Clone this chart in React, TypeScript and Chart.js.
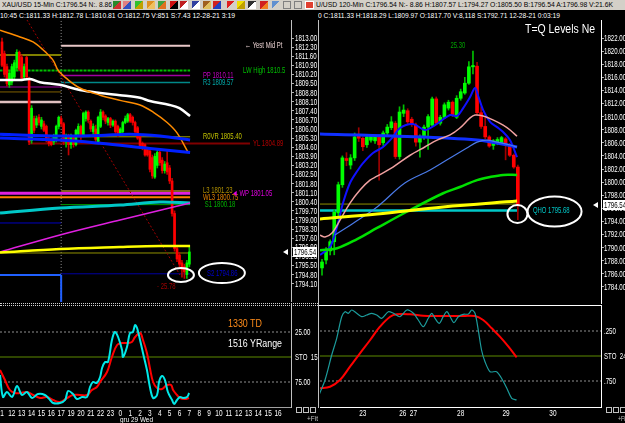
import React, { useEffect, useRef, useLayoutEffect } from 'react';
import { Chart, registerables } from 'chart.js';

Chart.register(...registerables);

const FONT = "'Liberation Sans', Arial, sans-serif";
const SX = 0.68; // horizontal condensing of the small terminal font
const FS = 9;

type Pt = [number, number];

// ================= LEFT PANEL: XAU/USD 15-Min =================
// [open, high, low, close]
const LEFT_CANDLES: number[][] = [
  [1812.7, 1813.0, 1810.8, 1810.9], [1811.8, 1812.0, 1810.0, 1810.2], [1810.8, 1811.0, 1809.3, 1809.5],
  [1809.4, 1810.5, 1809.2, 1810.3], [1809.6, 1811.0, 1809.4, 1810.8], [1810.0, 1811.3, 1809.8, 1811.1],
  [1810.7, 1812.1, 1810.5, 1811.9], [1811.9, 1812.0, 1810.5, 1810.6], [1811.5, 1811.7, 1809.8, 1809.9],
  [1810.0, 1811.0, 1809.8, 1810.8], [1811.5, 1811.6, 1809.8, 1810.0], [1809.9, 1810.0, 1804.8, 1805.0],
  [1805.1, 1807.8, 1804.9, 1807.6], [1806.8, 1807.0, 1805.7, 1805.9], [1806.3, 1807.0, 1806.1, 1806.8],
  [1806.9, 1807.1, 1806.3, 1806.5], [1806.2, 1806.9, 1806.0, 1806.7], [1806.4, 1806.6, 1805.8, 1805.9],
  [1806.2, 1806.3, 1805.0, 1805.2], [1805.2, 1805.4, 1804.7, 1804.9], [1805.1, 1805.3, 1804.7, 1804.8],
  [1805.0, 1805.6, 1804.8, 1805.4], [1805.1, 1806.3, 1805.0, 1806.2], [1806.2, 1807.0, 1806.0, 1806.9],
  [1806.8, 1807.0, 1806.2, 1806.4], [1806.4, 1806.5, 1804.8, 1805.0], [1805.0, 1805.6, 1804.6, 1805.5],
  [1805.5, 1805.6, 1804.0, 1804.8], [1804.8, 1805.6, 1804.5, 1805.4], [1805.4, 1805.5, 1804.6, 1804.8],
  [1804.8, 1806.0, 1804.7, 1805.9], [1805.6, 1806.4, 1805.5, 1806.2], [1806.2, 1806.3, 1805.2, 1805.4],
  [1805.5, 1807.3, 1805.4, 1807.2], [1806.8, 1807.4, 1806.6, 1807.3], [1807.3, 1807.4, 1806.5, 1806.7],
  [1806.6, 1806.7, 1805.8, 1806.0], [1805.8, 1806.4, 1805.6, 1806.2], [1806.0, 1806.3, 1805.0, 1805.2],
  [1805.0, 1807.0, 1804.9, 1806.9], [1806.2, 1807.5, 1806.1, 1807.3], [1807.3, 1807.4, 1806.7, 1806.9],
  [1807.0, 1807.1, 1806.4, 1806.6], [1806.5, 1806.9, 1806.3, 1806.8], [1806.8, 1806.9, 1806.1, 1806.3],
  [1806.3, 1806.7, 1806.2, 1806.6], [1806.6, 1806.7, 1805.6, 1805.8], [1806.2, 1806.3, 1805.4, 1805.6],
  [1805.6, 1806.1, 1805.5, 1806.0], [1805.8, 1806.6, 1805.7, 1806.5], [1806.5, 1807.0, 1806.4, 1806.8],
  [1806.6, 1807.2, 1806.5, 1807.1], [1807.1, 1807.2, 1806.5, 1806.6], [1806.9, 1807.0, 1806.3, 1806.5],
  [1806.5, 1806.6, 1805.7, 1805.8], [1806.1, 1806.2, 1805.2, 1805.3], [1805.5, 1805.6, 1804.5, 1804.6],
  [1804.9, 1805.0, 1804.4, 1804.6], [1804.8, 1804.9, 1803.9, 1804.0], [1804.5, 1804.6, 1803.9, 1804.0],
  [1804.3, 1804.4, 1802.7, 1802.9], [1803.8, 1804.0, 1802.2, 1802.4], [1802.3, 1804.1, 1802.2, 1803.9],
  [1803.2, 1804.4, 1803.0, 1804.2], [1804.2, 1804.3, 1803.2, 1803.4], [1803.6, 1803.8, 1802.6, 1802.8],
  [1802.8, 1803.5, 1802.6, 1803.3], [1803.4, 1804.3, 1802.5, 1802.7], [1803.0, 1803.2, 1801.8, 1802.0],
  [1802.0, 1802.2, 1799.3, 1799.5], [1799.5, 1799.7, 1796.6, 1796.8], [1796.8, 1797.0, 1795.8, 1796.0],
  [1796.3, 1796.5, 1795.4, 1795.6], [1795.7, 1795.9, 1794.6, 1795.2], [1795.4, 1795.6, 1794.5, 1795.0],
  [1794.8, 1795.9, 1794.5, 1795.7], [1795.6, 1796.9, 1795.4, 1796.54],
];
const LEFT_LAST_PRICE = 1796.54;
const LEFT_PRICE_TICKS = [
  1794.1, 1794.8, 1795.5, 1796.2, 1796.9, 1797.6, 1798.3, 1799.0, 1799.7, 1800.4, 1801.1, 1801.8, 1802.5, 1803.2,
  1803.9, 1804.6, 1805.3, 1806.0, 1806.7, 1807.4, 1808.1, 1808.8, 1809.5, 1810.2, 1810.9, 1811.6, 1812.3, 1813.0,
];
const LEFT_HOUR_TICKS = [0, 4, 8, 12, 16, 20, 24, 28, 32, 36, 40, 44, 48, 52, 56, 60, 64, 68, 72, 76, 80, 84, 88, 92, 96, 100, 104, 108, 112];
const LEFT_HOUR_LABELS = ['1', '12', '13', '14', '15', '16', '17', '19', '20', '21', '22', '23', '0', '1', '2', '3', '4', '5', '6', '7', '8', '9', '10', '11', '12', '13', '14', '15', '16'];

const LEFT_WHITE_MA: Pt[] = [[-0.8, 1809.77], [7.3, 1809.77], [11.4, 1809.85], [15.4, 1809.6], [23.5, 1809.4], [31.6, 1809.0], [39.8, 1808.77], [47.9, 1808.6], [56, 1808.4], [60, 1808.15], [68, 1807.85], [72, 1807.6], [76.3, 1807.0]];
const LEFT_ORANGE_MA: Pt[] = [[-0.8, 1813.6], [7.3, 1813.08], [12.6, 1812.7], [16.6, 1812.1], [20.7, 1811.3], [22.7, 1810.54], [26.4, 1809.85], [31.6, 1809.15], [39.8, 1808.6], [47.9, 1808.2], [56, 1807.85], [61.3, 1807.3], [67, 1806.5], [71, 1805.7], [75.5, 1804.2]];
const LEFT_BLUE_A: Pt[] = [[-0.8, 1805.6], [23.5, 1805.46], [39.8, 1805.5], [51.9, 1805.6], [64.1, 1805.46], [76.3, 1805.15]];
const LEFT_BLUE_B: Pt[] = [[-0.8, 1805.3], [23.5, 1805.15], [39.8, 1804.9], [60, 1804.5], [76.3, 1804.2]];
const LEFT_CYAN: Pt[] = [[-0.8, 1799.54], [23.5, 1799.92], [47.9, 1800.15], [64.1, 1800.38], [76.3, 1800.3]];
const LEFT_MAGENTA: Pt[] = [[-0.8, 1796.54], [23.5, 1797.85], [47.9, 1799.0], [76.3, 1800.3]];
const LEFT_YELLOW: Pt[] = [[-0.8, 1796.5], [23.5, 1796.77], [47.9, 1796.92], [64.1, 1797.0], [76.3, 1797.0]];
const LEFT_DIAGONAL: Pt[] = [[10.1, 1814.4], [72.2, 1794.77]];

// pivot levels of the current session
const LEFT_LEVEL_PRICES = [1812.4, 1810.5, 1810.11, 1809.57, 1805.4, 1804.89, 1801.23, 1801.05, 1800.75, 1800.18, 1794.86, 1796.46];
const LEFT_LEVEL_SPANS: Pt[] = [[24, 76.3], [-1, 76.3], [24, 76.3], [24, 76.3], [24, 76.3], [11.4, 100.6], [24, 76.3], [-1, 76.3], [-1, 76.3], [24, 76.3], [24, 76.3], [-1, 76.3]];
const LEFT_LEVEL_STYLE: [string, number, number[]][] = [
  ['#e8c8c8', 2, []], ['#00c000', 2, [3, 1]], ['#a000a0', 1.5, []], ['#008888', 1.5, []], ['#a0a000', 1, []],
  ['#800000', 2, []], ['#806020', 2, []], ['#e020e0', 3, []], ['#ff8000', 2, []], ['#00a000', 1, []], ['#0000a0', 1, []], ['#909000', 1, []],
];
// prior session levels (drawn left of the session start)
const LEFT_PRIOR_PRICES = [1811.7, 1809.23, 1808.85, 1808.08, 1798.77, 1794.77];
const LEFT_PRIOR_STYLE: [string, number][] = [['#808000', 2], ['#a000a0', 1], ['#806000', 1], ['#e0c0c0', 2.5], ['#0000c0', 1], ['#2060ff', 2]];
const LEFT_SESSION_START = 24;

const LEFT_LABEL_TEXTS = ['\u2190 Yest Mid Pt', 'LW High 1810.5', 'PP 1810.11', 'R3 1809.57', 'R0VR 1805.40', 'YL 1804.89', 'L3 1801.23', 'WL3 1800.75', '\u25C4 WP 1801.05', 'S1 1800.18', 'S2 1794.86', '- 25.78'];
const LEFT_LABEL_ANCHORS: Pt[] = [[98.6, 1812.4], [97.8, 1810.5], [81.5, 1810.11], [81.5, 1809.57], [81.5, 1805.4], [101.8, 1804.89], [81.5, 1801.3], [81.5, 1800.72], [93.3, 1801.02], [82.3, 1800.18], [83.2, 1794.9], [62.9, 1793.85]];
const LEFT_LABEL_COLORS = ['#e8d0d0', '#00c000', '#c000c0', '#00a8a8', '#c0c000', '#b00000', '#b09000', '#e08000', '#e000e0', '#00b000', '#0000d0', '#a00000'];
const LEFT_ELLIPSES: Pt[] = [[72.6, 1794.77], [89.2, 1794.92]];

// stochastic (inverted scale)
const LEFT_OSC_K: Pt[] = [[-0.8, 68], [0.4, 90], [2.0, 85], [4.1, 90], [6.1, 79], [8.1, 88], [10.1, 85], [12.2, 91], [14.6, 87], [17.4, 88], [19.5, 93], [20.7, 96], [23.5, 96], [25.6, 93], [26.8, 84], [28.8, 87], [30.4, 92], [32.5, 90], [34.5, 90], [35.7, 80], [36.9, 75], [38.5, 76], [39.8, 70], [40.6, 61], [41.8, 55], [43.0, 55], [44.6, 33], [45.8, 25], [47.1, 30], [48.7, 43], [49.1, 50], [50.7, 40], [51.9, 26], [53.1, 25], [54.0, 18], [54.8, 21], [56.0, 33], [57.2, 46], [58.8, 63], [60.0, 80], [61.3, 91], [62.9, 88], [63.7, 75], [64.9, 69], [66.1, 73], [67.3, 85], [69.0, 93], [69.8, 97], [71.0, 93], [72.2, 90], [73.4, 91], [75.1, 90], [75.9, 86]];
const LEFT_OSC_D: Pt[] = [[-0.8, 63], [1.2, 73], [3.2, 83], [5.3, 86], [7.3, 86], [10.1, 85], [12.6, 88], [15.4, 91], [18.3, 90], [20.7, 93], [23.5, 95], [26.4, 91], [28.8, 88], [31.6, 88], [34.5, 88], [36.5, 83], [38.5, 80], [39.8, 75], [42.6, 65], [44.6, 50], [46.7, 38], [48.7, 36], [50.7, 36], [52.7, 35], [54.0, 30], [56.0, 26], [57.2, 33], [58.8, 46], [60.0, 61], [61.3, 75], [62.9, 81], [64.9, 82], [66.9, 78], [68.6, 78], [69.4, 83], [71.0, 88], [72.2, 91], [74.2, 92], [75.9, 91]];
const LEFT_OSC_TICKS = [25, 50, 75];
const LEFT_OSC_LABELS = ['25.00', 'STO  15,', '75.00'];

// ================= RIGHT PANEL: 120-Min =================
const RIGHT_CANDLES: number[][] = [
  [1786.9, 1788.2, 1785.8, 1787.8], [1788.1, 1790.0, 1787.5, 1789.6], [1789.5, 1791.2, 1788.9, 1790.9],
  [1790.9, 1795.8, 1788.9, 1795.4], [1795.3, 1800.0, 1794.8, 1799.6], [1799.6, 1804.0, 1799.2, 1803.7],
  [1803.6, 1804.5, 1802.5, 1803.3], [1802.6, 1804.2, 1802.0, 1803.7], [1803.7, 1807.5, 1803.3, 1806.9],
  [1807.2, 1808.3, 1806.2, 1806.7], [1806.7, 1806.9, 1804.8, 1805.4], [1805.7, 1807.2, 1805.3, 1806.9],
  [1806.4, 1807.3, 1806.1, 1807.0], [1806.3, 1807.1, 1805.9, 1806.9], [1806.9, 1807.2, 1800.3, 1805.7],
  [1806.0, 1807.8, 1805.6, 1807.5], [1807.5, 1808.8, 1807.2, 1808.4], [1808.3, 1810.0, 1808.0, 1809.2],
  [1809.0, 1809.3, 1803.6, 1803.9], [1803.9, 1811.5, 1803.5, 1810.7], [1810.5, 1811.8, 1810.0, 1811.0],
  [1810.9, 1811.2, 1808.9, 1809.2], [1809.6, 1809.9, 1808.5, 1808.8], [1808.7, 1809.0, 1805.5, 1806.1],
  [1806.1, 1807.2, 1803.8, 1806.9], [1806.9, 1808.7, 1806.5, 1808.4], [1808.4, 1810.3, 1805.0, 1810.0],
  [1808.7, 1813.0, 1808.5, 1812.7], [1812.7, 1813.0, 1808.8, 1809.0], [1809.0, 1810.2, 1808.7, 1809.9],
  [1809.9, 1812.1, 1809.7, 1811.8], [1811.3, 1812.5, 1811.0, 1812.2], [1812.2, 1812.4, 1810.0, 1810.2],
  [1809.9, 1813.2, 1809.7, 1812.8], [1812.8, 1814.2, 1812.5, 1813.8], [1813.6, 1816.0, 1813.4, 1815.1],
  [1815.1, 1818.4, 1814.9, 1817.6], [1817.6, 1820.0, 1816.5, 1817.8], [1817.7, 1818.3, 1810.3, 1810.6],
  [1810.6, 1811.5, 1808.2, 1808.5], [1808.5, 1809.8, 1806.6, 1806.9], [1806.9, 1807.1, 1805.3, 1805.5],
  [1805.6, 1806.5, 1805.0, 1806.3], [1805.9, 1806.8, 1805.7, 1806.5], [1806.0, 1807.0, 1805.8, 1806.8],
  [1806.6, 1806.8, 1803.4, 1805.8], [1805.7, 1805.9, 1803.9, 1804.1], [1804.1, 1804.3, 1802.1, 1802.3],
  [1802.3, 1802.6, 1794.27, 1796.54],
];
const RIGHT_LAST_PRICE = 1796.54;
const RIGHT_PRICE_TICKS = [1784, 1786, 1788, 1790, 1792, 1794, 1796, 1798, 1800, 1802, 1804, 1806, 1808, 1810, 1812, 1814, 1816, 1818, 1820, 1822];
const RIGHT_DAY_TICKS = [10, 19.8, 22.4, 34, 45.1, 56.6];
const RIGHT_DAY_LABELS = ['23', '26', '27', '28', '29', '30'];

const RIGHT_BLUE_FAST: Pt[] = [[-0.5, 1788.87], [1.96, 1790.1], [3.68, 1793.15], [5.15, 1796.8], [6.86, 1799.86], [8.82, 1801.85], [10.05, 1802.9], [12.5, 1804.44], [14.95, 1805.36], [17.4, 1806.9], [19.1, 1808.26], [22.3, 1808.87], [25.2, 1807.95], [27.7, 1808.7], [31.4, 1810.24], [33.1, 1810.1], [34.6, 1811.3], [36.3, 1813.0], [37.5, 1814.37], [38.2, 1813.3], [39.5, 1811.0], [41.2, 1809.2], [42.9, 1808.4], [44.4, 1807.65], [46.1, 1806.4], [47.8, 1803.8]];
const RIGHT_PINK: Pt[] = [[-0.5, 1791.9], [0.74, 1791.62], [2.45, 1792.23], [4.41, 1794.2], [6.86, 1796.8], [9.31, 1798.8], [11.76, 1800.3], [13.5, 1800.9], [17.4, 1802.3], [21.6, 1804.1], [25.2, 1805.36], [28.2, 1806.4], [31.4, 1807.2], [33.8, 1808.26], [36.3, 1809.8], [37.5, 1810.24], [39.5, 1810.1], [41.9, 1809.5], [44.4, 1808.7], [46.1, 1807.95], [47.8, 1807.0]];
const RIGHT_CORNFLOWER: Pt[] = [[3.19, 1791.92], [8.1, 1793.9], [13.5, 1796.2], [20.3, 1799.86], [26.5, 1801.85], [31.4, 1803.68], [35.5, 1805.2], [38.0, 1806.1], [40.4, 1806.4], [42.9, 1806.1], [46.1, 1805.66], [47.8, 1805.36]];
const RIGHT_GREEN: Pt[] = [[-0.5, 1789.6], [3.68, 1789.9], [8.6, 1791.3], [13.5, 1793.0], [21.6, 1795.74], [29.7, 1798.3], [33.8, 1799.25], [38.0, 1800.3], [41.2, 1800.78], [44.4, 1801.1], [47.8, 1801.1]];
const RIGHT_YELLOW: Pt[] = [[-0.5, 1794.37], [13.5, 1795.13], [29.7, 1796.2], [47.8, 1797.1]];
const RIGHT_ROYAL: Pt[] = [[-0.5, 1807.34], [17.4, 1807.04], [38.0, 1806.43], [47.8, 1805.36]];
const RIGHT_LEVEL_PRICES = [1796.65, 1795.68];
const RIGHT_LEVEL_SPAN: Pt = [-0.5, 47.8];
const RIGHT_LABEL_TEXTS = ['QHO 1795.68', '25.30'];
const RIGHT_LABEL_ANCHORS: Pt[] = [[51.7, 1795.68], [33.3, 1820.93]];
const RIGHT_ELLIPSES: Pt[] = [[47.9, 1795.13], [57.0, 1795.5]];

const RIGHT_OSC_K: Pt[] = [[-0.66, 88.3], [0.74, 74], [2.38, 49], [3.6, 32.3], [4.83, 10.7], [5.64, 5.7], [6.45, 7.3], [7.28, 4], [8.5, 7.3], [9.73, 10.7], [10.96, 9], [12.2, 7.3], [13.4, 9], [14.6, 12.3], [16.25, 5.7], [17.5, 7.3], [19.1, 10.7], [20.8, 4], [22.4, 7.3], [23.6, 14], [24.8, 20.7], [26.05, 12.3], [26.9, 7.3], [27.7, 12.3], [28.75, 17.3], [29.7, 10.7], [30.6, 5.7], [31.4, 10.7], [32.35, 16.7], [33.4, 10.7], [34.6, 8.3], [35.9, 8], [36.7, 4], [37.5, 7.3], [38.3, 24], [39.1, 44], [39.95, 55.7], [41.2, 65.7], [42.8, 65.7], [44.0, 72.3], [45.3, 82.3], [46.5, 92.3], [47.7, 94]];
const RIGHT_OSC_D: Pt[] = [[-0.66, 82.3], [1.96, 80.7], [4.4, 74], [6.86, 60.7], [9.3, 47.3], [11.8, 34], [14.2, 20.7], [16.7, 10.7], [18.3, 8.3], [21.6, 8.3], [24.8, 9.7], [28.1, 10], [31.4, 10], [34.6, 10], [37.5, 10], [39.5, 14], [41.6, 22.3], [43.6, 30.7], [45.7, 40.7], [47.7, 51.3]];
const RIGHT_OSC_TICKS = [25, 50, 75];
const RIGHT_OSC_LABELS = ['.250', 'STO  24', '.750'];

// ================= helpers =================
const LEFT_X: Pt = [-0.81, 117.24];
const RIGHT_X: Pt = [-0.49, 68.38];

const pts = (a: Pt[]) => a.map(([x, y]) => ({ x, y }));

function lineDs(a: Pt[], color: string, width: number, extra: any = {}) {
  return { type: 'line', data: pts(a), borderColor: color, borderWidth: width, pointRadius: 0, fill: false, tension: 0.35, order: 1, ...extra };
}
function levelDs(v: number, span: Pt, color: string, width: number, extra: any = {}) {
  return { type: 'line', data: [{ x: span[0], y: v }, { x: span[1], y: v }], borderColor: color, borderWidth: width, pointRadius: 0, fill: false, tension: 0, order: 6, ...extra };
}
function candleDs(c: number[][], bodyW: number, wickUp: string, wickDn: string) {
  const up = c.map((r) => r[3] >= r[0]);
  return [
    { type: 'bar', data: c.map((r, i) => ({ x: i, y: [r[2], r[1]] })), backgroundColor: up.map((u) => (u ? wickUp : wickDn)), barThickness: 1, grouped: false, order: 4 },
    { type: 'bar', data: c.map((r, i) => ({ x: i, y: [r[0], r[3]] })), backgroundColor: up.map((u) => (u ? '#00ff00' : '#ff0000')), barThickness: bodyW, grouped: false, order: 3, minBarLength: 1 },
  ];
}

// condensed text drawn on the chart canvas
function ctext(ctx: any, t: string, x: number, y: number, color: string, size = FS, align = 'left', baseline = 'middle', sx = SX) {
  ctx.save();
  ctx.font = `${size}px ${FONT}`;
  ctx.fillStyle = color;
  ctx.textAlign = align;
  ctx.textBaseline = baseline;
  ctx.translate(x, y);
  ctx.scale(sx, 1);
  ctx.fillText(t, 0, 0);
  ctx.restore();
}

function baseOptions(xr: Pt, yMin: number, yMax: number, yWidth: number, padLeft: number) {
  return {
    animation: false,
    responsive: false,
    events: [],
    layout: { padding: { left: padLeft, right: 0, top: 0, bottom: 0 } },
    plugins: { legend: { display: false }, tooltip: { enabled: false } },
    scales: {
      x: { type: 'linear', min: xr[0], max: xr[1], display: false, offset: false, grid: { offset: false } },
      y: {
        type: 'linear', position: 'right', min: yMin, max: yMax,
        afterFit: (s: any) => { s.width = yWidth; s.paddingTop = 0; s.paddingBottom = 0; },
        ticks: { display: false, autoSkip: false },
        grid: { drawOnChartArea: false, color: '#b0b0b0', tickLength: 3 },
        border: { color: '#c0c0c0', width: 1 },
      },
    },
  } as any;
}

// y-axis labels from the library's own ticks, condensed
function drawYLabels(chart: any, fmt: (v: number, i: number) => string, dx: number) {
  const { ctx, chartArea, scales } = chart;
  scales.y.ticks.forEach((t: any, i: number) => {
    ctext(ctx, fmt(t.value, i), chartArea.right + dx, scales.y.getPixelForValue(t.value) + 0.5, '#ffffff');
  });
}
function drawXLabels(chart: any, labels: string[]) {
  const { ctx, chartArea, scales } = chart;
  scales.x.ticks.forEach((t: any, i: number) => {
    ctext(ctx, labels[i], scales.x.getPixelForValue(t.value), chartArea.bottom + 2, '#ffffff', FS, 'center', 'top', 0.72);
  });
}

function drawEllipse(ctx: any, cx: number, cy: number, rx: number, ry: number) {
  ctx.save();
  ctx.strokeStyle = '#ffffff';
  ctx.lineWidth = 2;
  ctx.beginPath();
  ctx.ellipse(cx, cy, rx, ry, 0, 0, Math.PI * 2);
  ctx.stroke();
  ctx.restore();
}
function drawPriceBox(chart: any, price: number, boxW: number) {
  const { ctx, chartArea, scales } = chart;
  const y = Math.round(scales.y.getPixelForValue(price));
  const x0 = chartArea.right + 2;
  ctx.save();
  ctx.fillStyle = '#ffffff';
  ctx.fillRect(x0, y - 5, boxW, 10);
  ctx.beginPath();
  ctx.moveTo(chartArea.right - 8, y);
  ctx.lineTo(chartArea.right - 3, y - 3);
  ctx.lineTo(chartArea.right - 3, y + 3);
  ctx.closePath();
  ctx.fill();
  ctx.restore();
  ctext(ctx, price.toFixed(2), x0 + 1, y + 0.5, '#000000');
}

function FitText({ x, y, w, size, color, weight, children }: any) {
  const ref = useRef<HTMLDivElement>(null);
  useLayoutEffect(() => {
    const el = ref.current;
    if (!el) return;
    el.style.transform = 'none';
    const sw = el.getBoundingClientRect().width;
    if (sw > 0 && w) el.style.transform = `scaleX(${w / sw})`;
  }, [w, children]);
  return (
    <div ref={ref} style={{ position: 'absolute', left: x, top: y, fontSize: size, lineHeight: `${size + 1}px`, color, fontWeight: weight || 'normal', fontFamily: FONT, whiteSpace: 'nowrap', transformOrigin: '0 0' }}>
      {children}
    </div>
  );
}

const ICONS: [number, string, string][] = [
  [113, '#2a8a2a', '#d03030'], [123, '#e08080', '#3050c0'], [135, '#30c030', '#c0a000'], [147, '#e09020', '#f0c060'],
  [158, '#40a040', '#e07020'], [170, '#d01010', '#000000'], [180, '#c02020', '#ffffff'], [192, '#3040a0', '#ffffff'],
  [203, '#a06020', '#e0c060'], [213, '#d02020', '#2040c0'], [227, '#e02020', '#d4d0c8'], [237, '#f0e000', '#c0a000'],
  [248, '#303030', '#ffffff'], [260, '#d02020', '#f08020'], [272, '#6090d0', '#d4d0c8'],
];

export default function App() {
  const lm = useRef<HTMLCanvasElement>(null);
  const lo = useRef<HTMLCanvasElement>(null);
  const rm = useRef<HTMLCanvasElement>(null);
  const ro = useRef<HTMLCanvasElement>(null);

  useEffect(() => {
    const charts: Chart[] = [];

    // ---------- left main ----------
    {
      const opts = baseOptions(LEFT_X, 1792.69, 1814.385, 27, 0);
      opts.scales.y.afterBuildTicks = (s: any) => { s.ticks = LEFT_PRICE_TICKS.map((v) => ({ value: v })); };
      const datasets: any[] = [];
      LEFT_LEVEL_PRICES.forEach((p, i) => {
        const [c, w, dash] = LEFT_LEVEL_STYLE[i];
        datasets.push(levelDs(p, LEFT_LEVEL_SPANS[i], c, w, { borderDash: dash }));
      });
      LEFT_PRIOR_PRICES.forEach((p, i) => {
        const [c, w] = LEFT_PRIOR_STYLE[i];
        datasets.push(levelDs(p, [-1, LEFT_SESSION_START], c, w));
      });
      datasets.push(levelDs(0, [0, 0], '#000', 0, { data: [{ x: LEFT_SESSION_START, y: 1794.77 }, { x: LEFT_SESSION_START, y: 1790 }], borderColor: '#2060ff', borderWidth: 2 }));
      datasets.push(levelDs(0, [0, 0], '#000', 0, { data: [{ x: LEFT_SESSION_START, y: 1790 }, { x: LEFT_SESSION_START, y: 1816 }], borderColor: '#909090', borderWidth: 1, borderDash: [1, 2], order: 7 }));
      datasets.push(lineDs(LEFT_DIAGONAL, '#a00000', 1, { borderDash: [2, 2], tension: 0, order: 5 }));
      datasets.push(...candleDs(LEFT_CANDLES, 2, '#00c000', '#c00000'));
      datasets.push(lineDs(LEFT_YELLOW, '#ffff00', 2.5));
      datasets.push(lineDs(LEFT_MAGENTA, '#e020e0', 1.5));
      datasets.push(lineDs(LEFT_CYAN, '#00c8c8', 3));
      datasets.push(lineDs(LEFT_BLUE_B, '#0020ff', 3));
      datasets.push(lineDs(LEFT_BLUE_A, '#0020ff', 3));
      datasets.push(lineDs(LEFT_ORANGE_MA, '#ff8c00', 1.5));
      datasets.push(lineDs(LEFT_WHITE_MA, '#ffffff', 2.5));
      charts.push(new Chart(lm.current!, {
        type: 'bar',
        data: { datasets },
        options: opts,
        plugins: [{
          id: 'overlay',
          afterDraw(chart: any) {
            const { ctx, scales } = chart;
            drawYLabels(chart, (v) => v.toFixed(2), 4);
            LEFT_LABEL_TEXTS.forEach((t, i) => {
              const [bx, p] = LEFT_LABEL_ANCHORS[i];
              ctext(ctx, t, scales.x.getPixelForValue(bx), scales.y.getPixelForValue(p), LEFT_LABEL_COLORS[i], FS, 'left', 'middle', 0.66);
            });
            drawEllipse(ctx, scales.x.getPixelForValue(LEFT_ELLIPSES[0][0]), scales.y.getPixelForValue(LEFT_ELLIPSES[0][1]), 13, 7);
            drawEllipse(ctx, scales.x.getPixelForValue(LEFT_ELLIPSES[1][0]), scales.y.getPixelForValue(LEFT_ELLIPSES[1][1]), 23, 10);
            drawPriceBox(chart, LEFT_LAST_PRICE, 24);
          },
        }],
      } as any));
    }

    // ---------- left oscillator ----------
    {
      const opts = baseOptions(LEFT_X, -3, 100, 27, 0);
      opts.scales.y.reverse = true;
      opts.scales.y.afterBuildTicks = (s: any) => { s.ticks = LEFT_OSC_TICKS.map((v) => ({ value: v })); };
      opts.scales.y.grid.drawTicks = false;
      opts.scales.x = {
        type: 'linear', min: LEFT_X[0], max: LEFT_X[1], offset: false,
        afterFit: (s: any) => { s.height = 16; s.paddingLeft = 0; s.paddingRight = 0; },
        afterBuildTicks: (s: any) => { s.ticks = LEFT_HOUR_TICKS.map((v) => ({ value: v })); },
        ticks: { display: false, autoSkip: false },
        grid: { display: false, offset: false },
        border: { color: '#a0a0a0', width: 1 },
      };
      const datasets: any[] = [
        levelDs(25, LEFT_X, '#909090', 1, { borderDash: [2, 2] }),
        levelDs(75, LEFT_X, '#909090', 1, { borderDash: [2, 2] }),
        levelDs(50, LEFT_X, '#5c8a00', 1),
        lineDs(LEFT_OSC_D, '#ff0000', 2, { tension: 0.4, order: 2 }),
        lineDs(LEFT_OSC_K, '#00e8e8', 2, { tension: 0.35, order: 1 }),
      ];
      charts.push(new Chart(lo.current!, {
        type: 'line', data: { datasets }, options: opts,
        plugins: [{
          id: 'overlay',
          afterDraw(chart: any) {
            drawYLabels(chart, (_v, i) => LEFT_OSC_LABELS[i], 4);
            drawXLabels(chart, LEFT_HOUR_LABELS);
          },
        }],
      } as any));
    }

    // ---------- right main ----------
    {
      const opts = baseOptions(RIGHT_X, 1781.39, 1824.75, 24, 2);
      opts.scales.y.afterBuildTicks = (s: any) => { s.ticks = RIGHT_PRICE_TICKS.map((v) => ({ value: v })); };
      opts.scales.y.border.color = '#ffffff';
      const datasets: any[] = [
        levelDs(RIGHT_LEVEL_PRICES[0], RIGHT_LEVEL_SPAN, '#909000', 1),
        levelDs(RIGHT_LEVEL_PRICES[1], RIGHT_LEVEL_SPAN, '#00c8c8', 2.5),
        ...candleDs(RIGHT_CANDLES, 3, '#00c000', '#a00000'),
        lineDs(RIGHT_YELLOW, '#ffff00', 3),
        lineDs(RIGHT_GREEN, '#00e000', 2.5),
        lineDs(RIGHT_CORNFLOWER, '#4a7ae8', 1.2),
        lineDs(RIGHT_PINK, '#f0a0a0', 1.5),
        lineDs(RIGHT_ROYAL, '#1030ff', 3),
        lineDs(RIGHT_BLUE_FAST, '#1010ff', 2),
      ];
      charts.push(new Chart(rm.current!, {
        type: 'bar',
        data: { datasets },
        options: opts,
        plugins: [{
          id: 'overlay',
          afterDraw(chart: any) {
            const { ctx, scales } = chart;
            drawYLabels(chart, (v) => v.toFixed(2), 3);
            ctext(ctx, RIGHT_LABEL_TEXTS[0], scales.x.getPixelForValue(RIGHT_LABEL_ANCHORS[0][0]), scales.y.getPixelForValue(RIGHT_LABEL_ANCHORS[0][1]), '#00c8c8', FS, 'left', 'middle', 0.66);
            ctext(ctx, RIGHT_LABEL_TEXTS[1], scales.x.getPixelForValue(RIGHT_LABEL_ANCHORS[1][0]), scales.y.getPixelForValue(RIGHT_LABEL_ANCHORS[1][1]), '#00a000', FS, 'center', 'middle', 0.66);
            drawEllipse(ctx, scales.x.getPixelForValue(RIGHT_ELLIPSES[0][0]), scales.y.getPixelForValue(RIGHT_ELLIPSES[0][1]), 10, 9);
            drawEllipse(ctx, scales.x.getPixelForValue(RIGHT_ELLIPSES[1][0]), scales.y.getPixelForValue(RIGHT_ELLIPSES[1][1]), 27, 15);
            drawPriceBox(chart, RIGHT_LAST_PRICE, 24);
          },
        }],
      } as any));
    }

    // ---------- right oscillator ----------
    {
      const opts = baseOptions(RIGHT_X, -1, 101, 24, 2);
      opts.scales.y.reverse = true;
      opts.scales.y.afterBuildTicks = (s: any) => { s.ticks = RIGHT_OSC_TICKS.map((v) => ({ value: v })); };
      opts.scales.y.grid.drawTicks = false;
      opts.scales.y.border.color = '#ffffff';
      opts.scales.x = {
        type: 'linear', min: RIGHT_X[0], max: RIGHT_X[1], offset: false,
        afterFit: (s: any) => { s.height = 16; s.paddingLeft = 0; s.paddingRight = 0; },
        afterBuildTicks: (s: any) => { s.ticks = RIGHT_DAY_TICKS.map((v) => ({ value: v })); },
        ticks: { display: false, autoSkip: false },
        grid: { display: false, offset: false },
        border: { color: '#ffffff', width: 1 },
      };
      const datasets: any[] = [
        levelDs(25, RIGHT_X, '#909090', 1, { borderDash: [2, 2] }),
        levelDs(75, RIGHT_X, '#909090', 1, { borderDash: [2, 2] }),
        levelDs(50, RIGHT_X, '#5c8a00', 1),
        lineDs(RIGHT_OSC_D, '#ff0000', 2, { tension: 0.4, order: 2 }),
        lineDs(RIGHT_OSC_K, '#1c9c9c', 1.2, { tension: 0.3, order: 1 }),
      ];
      charts.push(new Chart(ro.current!, {
        type: 'line', data: { datasets }, options: opts,
        plugins: [{
          id: 'overlay',
          afterDraw(chart: any) {
            drawYLabels(chart, (_v, i) => RIGHT_OSC_LABELS[i], 3);
            drawXLabels(chart, RIGHT_DAY_LABELS);
          },
        }],
      } as any));
    }

    return () => charts.forEach((c) => c.destroy());
  }, []);

  const abs = (l: number, t: number, w: number, h: number, extra: any = {}) => ({ position: 'absolute' as const, left: l, top: t, width: w, height: h, ...extra });

  return (
    <div style={{ position: 'fixed', left: 0, top: 0, width: 625, height: 423, background: '#000', overflow: 'hidden' }}>
      {/* header */}
      <div style={abs(0, 0, 625, 10, { background: '#d4d0c8' })} />
      <FitText x={2} y={0} w={110} size={8} color="#000">XAU/USD 15-Min C:1796.54 N:. 8.86</FitText>
      {ICONS.map(([x, a, b], i) => (
        <div key={i} style={abs(x, 1, 8, 8, { background: `linear-gradient(135deg, ${a} 50%, ${b} 50%)` })} />
      ))}
      <div style={abs(283, 1, 8, 8, { background: '#d4d0c8', border: '1px solid #808080', boxSizing: 'border-box' })} />
      <div style={abs(294, 1, 8, 8, { background: '#d4d0c8', border: '1px solid #808080', boxSizing: 'border-box' })} />
      <div style={abs(305, 1, 9, 8, { background: '#e04030', border: '1px solid #ffffff', boxSizing: 'border-box' })} />
      <FitText x={316} y={0} w={297} size={8} color="#000">U/USD 120-Min C:1796.54 N:- 8.86 H:1807.57 L:1794.27 O:1805.50 B:1796.54 A:1796.98 V:21.6K</FitText>
      <FitText x={0} y={11} w={235} size={8} color="#fff">10:45 C:1811.33 H:1812.78 L:1810.81 O:1812.75 V:851 S:7.43 12-28-21 3:19</FitText>
      <FitText x={318} y={11} w={242} size={8} color="#fff">0 C:1811.33 H:1818.29 L:1809.97 O:1817.70 V:8,118 S:1792.71 12-28-21 0:03:19</FitText>

      {/* charts */}
      <canvas ref={lm} width={318} height={282} style={abs(0, 20, 318, 282)} />
      <canvas ref={lo} width={318} height={119} style={abs(0, 304, 318, 119)} />
      <canvas ref={rm} width={307} height={284} style={abs(318, 20, 307, 284)} />
      <canvas ref={ro} width={307} height={118} style={abs(318, 305, 307, 118)} />

      {/* separators */}
      <div style={abs(0, 303, 318, 0, { borderTop: '1px dotted #d0d0d0' })} />
      <div style={abs(0, 305, 318, 0, { borderTop: '1px dotted #d0d0d0' })} />
      <div style={abs(318, 305, 283, 1, { background: '#ffffff' })} />
      <div style={abs(318, 20, 1, 388, { background: '#c0c0c0' })} />

      {/* texts */}
      <FitText x={525} y={23} w={70} size={12} color="#fff">T=Q Levels Ne</FitText>
      <FitText x={228} y={317} w={34} size={11} color="#ff8c1a">1330 TD</FitText>
      <FitText x={228} y={337} w={54} size={11} color="#fff">1516 YRange</FitText>
      <FitText x={120} y={415} w={33} size={8} color="#fff">gru 29 Wed</FitText>

      {/* bottom widgets */}
      {[296, 303, 310, 606, 613, 620].map((x, i) => (
        <div key={i} style={abs(x, 407, 6, 6, { border: '1px solid #c0c0c0', boxSizing: 'border-box' })} />
      ))}
      <FitText x={307} y={415} w={11} size={7} color="#c0c0c0">+Fit</FitText>
      <FitText x={618} y={415} w={9} size={7} color="#c0c0c0">+Fit</FitText>
    </div>
  );
}
